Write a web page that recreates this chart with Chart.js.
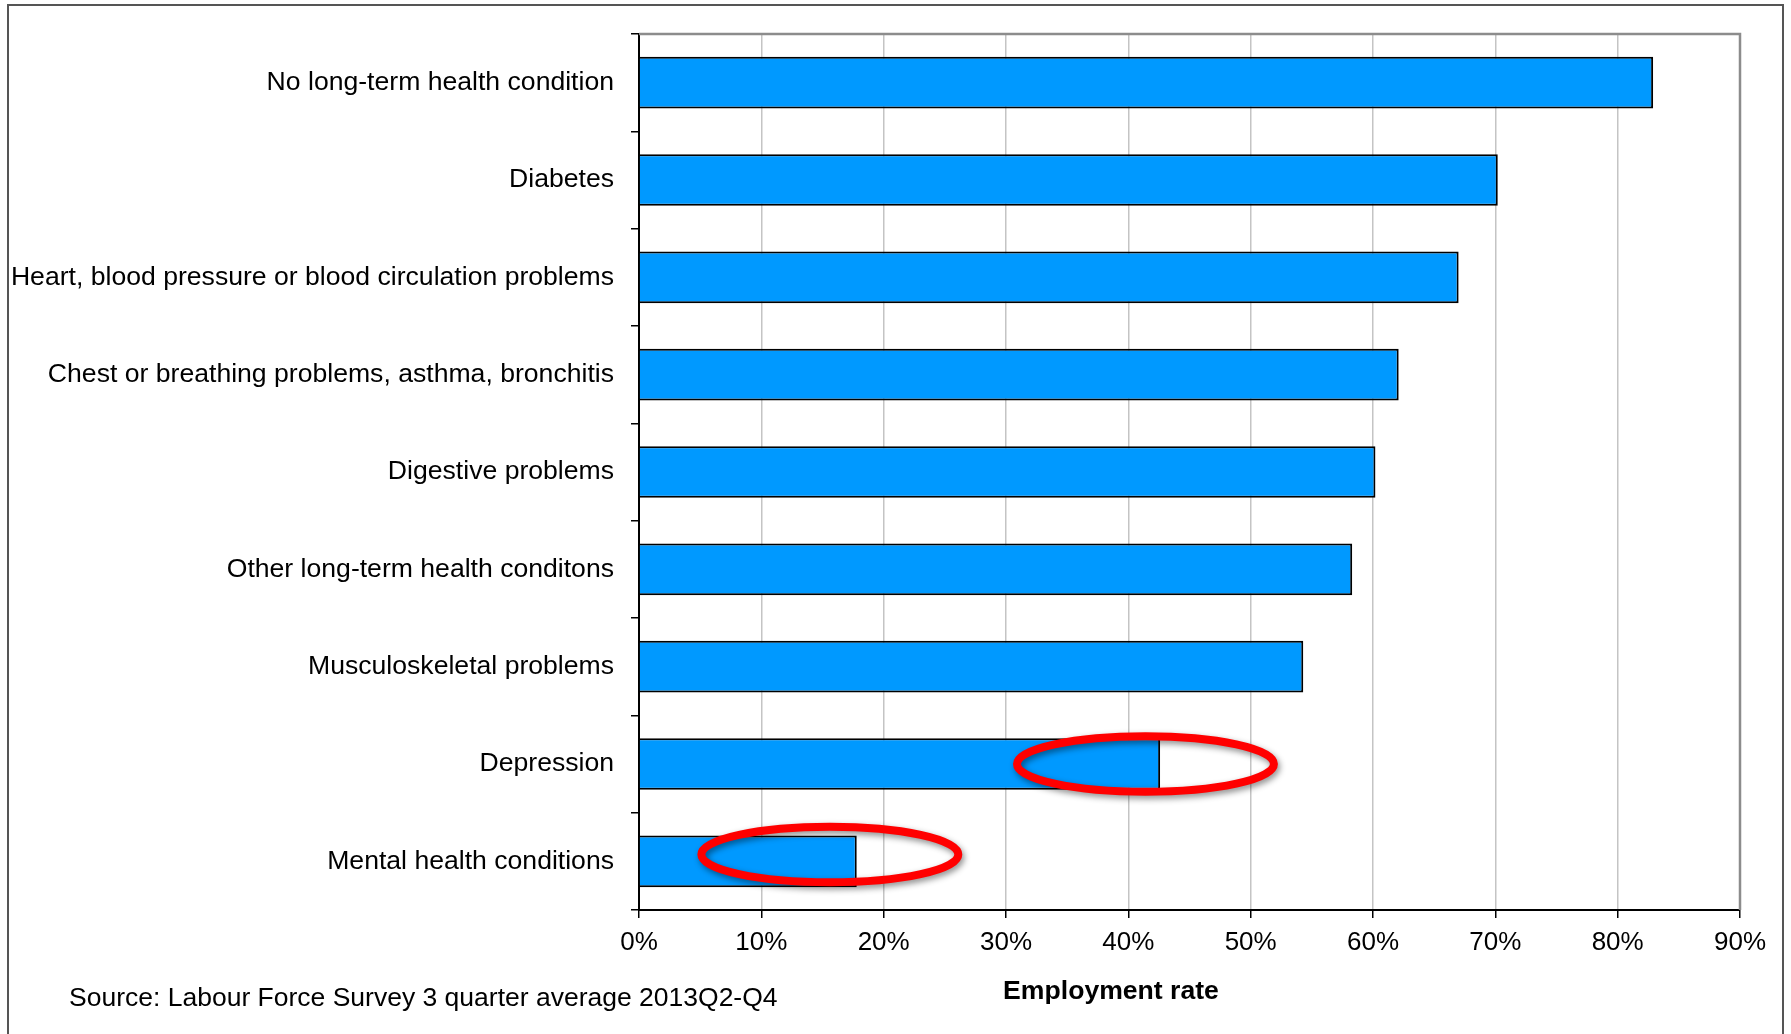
<!DOCTYPE html>
<html>
<head>
<meta charset="utf-8">
<script src="https://cdn.jsdelivr.net/npm/chart.js@4"></script>
<style>
  body { margin: 0; background: #fff; }
  canvas { display: block; }
</style>
</head>
<body>
<canvas id="myChart" width="1791" height="1034"></canvas>
<script>
const categories = [
    'No long-term health condition',
    'Diabetes',
    'Heart, blood pressure or blood circulation problems',
    'Chest or breathing problems, asthma, bronchitis',
    'Digestive problems',
    'Other long-term health conditons',
    'Musculoskeletal problems',
    'Depression',
    'Mental health conditions'
];
const employmentRate = [82.9, 70.2, 67.0, 62.1, 60.2, 58.3, 54.3, 42.6, 17.8];
const xTicks = [0, 10, 20, 30, 40, 50, 60, 70, 80, 90];
const axisTitle = 'Employment rate';
const sourceNote = 'Source: Labour Force Survey 3 quarter average 2013Q2-Q4';

// red rings drawn over two bars: centre (rate, category index), half width in %
const highlights = [
    { index: 7, centre: 41.4, halfWidth: 10.5, yShift: 0 },
    { index: 8, centre: 15.6, halfWidth: 10.5, yShift: -0.07 }
];

const FONT = '"Liberation Sans", Arial, sans-serif';

const decorPlugin = {
    id: 'decor',
    beforeDraw(chart) {
        const c = chart.ctx;
        c.save();
        c.fillStyle = '#fff';
        c.fillRect(0, 0, chart.width, chart.height);
        // outer frame
        c.strokeStyle = '#555';
        c.lineWidth = 2;
        c.beginPath();
        c.moveTo(8, 1034);
        c.lineTo(8, 5);
        c.lineTo(1783, 5);
        c.lineTo(1783, 1034);
        c.stroke();
        c.restore();
    },
    afterDatasetsDraw(chart) {
        const c = chart.ctx;
        const x = chart.scales.x, y = chart.scales.y;
        const area = chart.chartArea;
        c.save();
        // grey top and right plot border
        c.strokeStyle = '#8c8c8c';
        c.lineWidth = 2.5;
        c.beginPath();
        c.moveTo(area.left, area.top);
        c.lineTo(area.right, area.top);
        c.lineTo(area.right, area.bottom);
        c.stroke();

        const band = (y.getPixelForValue(1) - y.getPixelForValue(0));
        highlights.forEach(h => {
            const cx = x.getPixelForValue(h.centre);
            const rx = x.getPixelForValue(h.centre + h.halfWidth) - cx;
            const cy = y.getPixelForValue(h.index) + h.yShift * band;
            const ry = band * 0.285;
            c.save();
            c.shadowColor = 'rgba(0,0,0,0.45)';
            c.shadowBlur = 6;
            c.shadowOffsetX = 2;
            c.shadowOffsetY = 3;
            c.strokeStyle = '#ff0000';
            c.lineWidth = 8;
            c.beginPath();
            c.ellipse(cx, cy, rx, ry, 0, 0, Math.PI * 2);
            c.stroke();
            c.restore();
        });

        // axis title and source line
        c.fillStyle = '#000';
        c.textBaseline = 'middle';
        c.textAlign = 'center';
        c.font = 'bold 26.6px ' + FONT;
        c.fillText(axisTitle, 1111, 992);
        c.textAlign = 'left';
        c.font = '26.5px ' + FONT;
        c.fillText(sourceNote, 69, 999);
        c.restore();
    }
};

const ctx = document.getElementById('myChart').getContext('2d');

const myChart = new Chart(ctx, {
    type: 'bar',
    data: {
        labels: categories,
        datasets: [{
            label: axisTitle,
            data: employmentRate,
            backgroundColor: '#0099ff',
            borderColor: '#000',
            borderWidth: 2,
            barPercentage: 0.53,
            categoryPercentage: 1
        }]
    },
    options: {
        indexAxis: 'y',
        responsive: false,
        animation: false,
        devicePixelRatio: 1,
        layout: {
            padding: { top: 34, bottom: 0, left: 0, right: 51 }
        },
        plugins: {
            legend: { display: false },
            tooltip: { enabled: false }
        },
        scales: {
            x: {
                min: 0,
                max: 90,
                afterBuildTicks: (scale) => {
                    scale.ticks = xTicks.map(v => ({ value: v }));
                },
                afterFit: (scale) => { scale.height = 124; },
                grid: {
                    color: '#c4c4c4',
                    lineWidth: 1.5,
                    tickColor: '#000',
                    tickLength: 8
                },
                border: { color: '#000', width: 2 },
                ticks: {
                    color: '#000',
                    padding: 9,
                    font: { family: FONT, size: 26 },
                    callback: (value) => value + '%'
                }
            },
            y: {
                afterFit: (scale) => { scale.width = 639; },
                grid: {
                    offset: true,
                    drawOnChartArea: false,
                    tickColor: '#000',
                    tickLength: 8,
                    lineWidth: 1.5
                },
                border: { color: '#000', width: 2 },
                ticks: {
                    color: '#000',
                    padding: 17,
                    autoSkip: false,
                    font: { family: FONT, size: 26.6 }
                }
            }
        }
    },
    plugins: [decorPlugin]
});
</script>
</body>
</html>
